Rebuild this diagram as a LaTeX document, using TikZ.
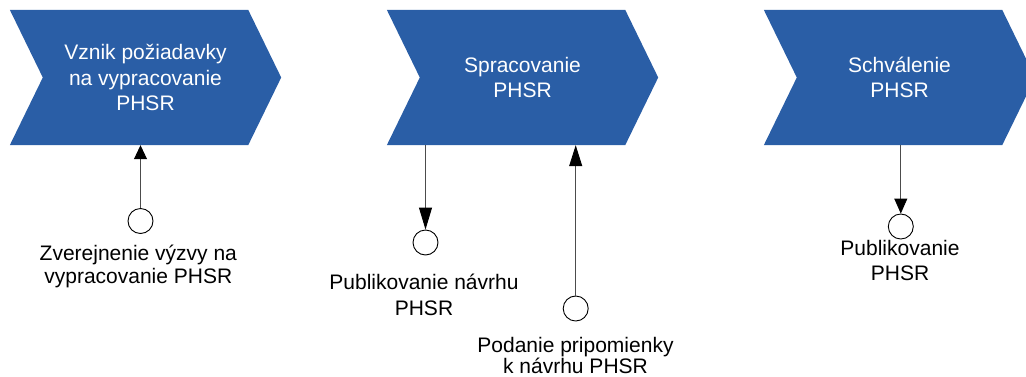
\documentclass[tikz,border=0pt]{standalone}
\usepackage{fontspec}
\setmainfont{Liberation Sans}
\usetikzlibrary{arrows.meta,calc,backgrounds}
\definecolor{chevblue}{RGB}{42,94,166}
\newcommand\chevfill[1]{%
  \begin{scope}[on background layer]
    \fill[chevblue] ($(#1.north west)+(-33,0)$) -- (#1.north east) -- ($(#1.east)+(33,0)$)
      -- (#1.south east) -- ($(#1.south west)+(-33,0)$) -- (#1.west) -- cycle;
  \end{scope}}
\begin{document}
\begin{tikzpicture}[x=1pt,y=-1pt,
  chev/.style={rectangle, minimum width=205pt, minimum height=135pt, inner sep=0pt,
    align=center, text=white, font=\fontsize{21}{25.5}\selectfont},
  evt/.style={circle, draw=black, line width=0.9pt, minimum size=25pt, inner sep=0pt, fill=white},
  lbl/.style={align=center, inner sep=0pt, anchor=base, font=\fontsize{21}{#1}\selectfont},
  lbl/.default=24,
  flow/.style={draw=black!70, line width=0.9pt, -{Triangle[length=#1,width=13pt,color=black]}}
]
\useasboundingbox (0,0) rectangle (1026,376);

% process steps
\node[chev] (c1) at (145.5,77.5) {Vznik požiadavky\\na vypracovanie\\PHSR};
\chevfill{c1}
\node[chev] (c2) at (522.5,77.5) {Spracovanie\\PHSR};
\chevfill{c2}
\node[chev] (c3) at (899.5,77.5) {Schválenie\\PHSR};
\chevfill{c3}

% events
\node[evt] (e1) at (140.5,221) {};
\node[evt] (e2) at (425.5,242.5) {};
\node[evt] (e3) at (575.7,308.5) {};
\node[evt] (e4) at (900.8,226.5) {};

% labels (base anchor = baseline of the last line)
\node[lbl=23.5] (l1) at (138.3,283.5) {Zverejnenie výzvy na\\vypracovanie PHSR};
\node[lbl=26.5] (l2) at (424,315.7) {Publikovanie návrhu\\PHSR};
\node[lbl=21] (l3) at (575.5,373) {Podanie pripomienky\\k návrhu PHSR};
\node[lbl=25] (l4) at (900,280) {Publikovanie\\PHSR};

% connectors
\draw[flow=14pt] (e1.north) -- (e1.north |- c1.south);
\draw[flow=22pt] (e2.north |- c2.south) -- (e2.north);
\draw[flow=21pt] (e3.north) -- (e3.north |- c2.south);
\draw[flow=15pt] (e4.north |- c3.south) -- (e4.north);
\end{tikzpicture}
\end{document}
